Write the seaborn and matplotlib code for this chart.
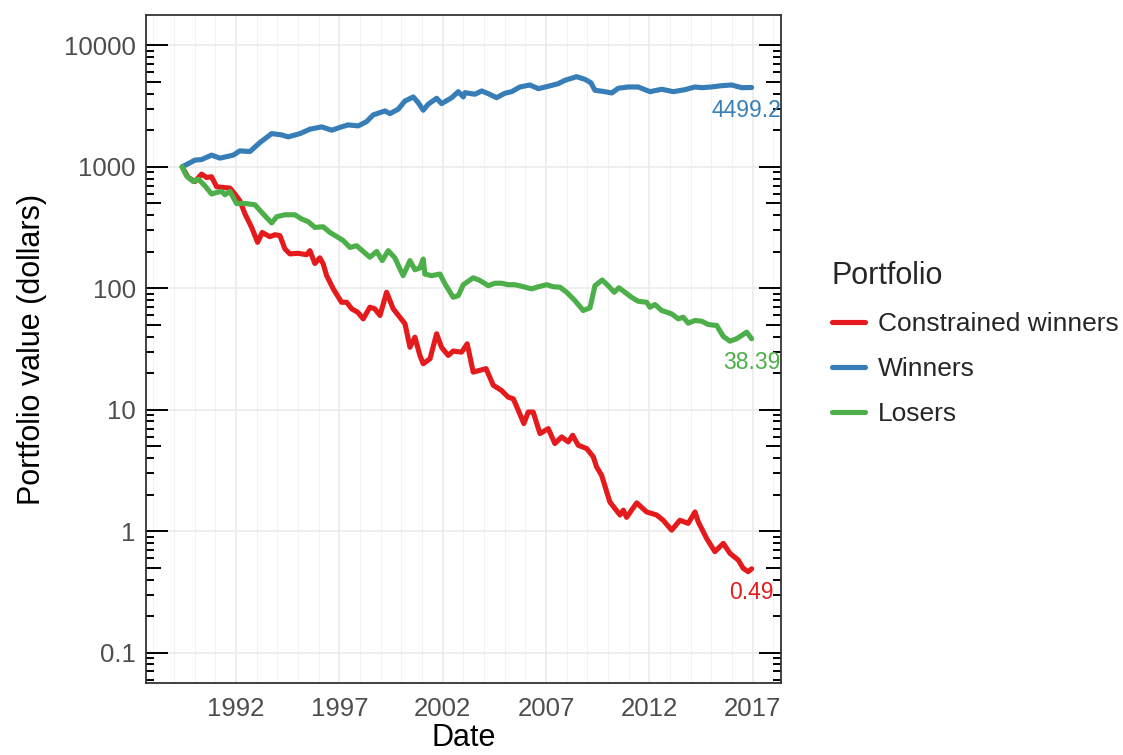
import numpy as np
import pandas as pd
import matplotlib
matplotlib.use('Agg')
import matplotlib.pyplot as plt
import matplotlib.transforms as mtransforms
from matplotlib.lines import Line2D
from matplotlib.ticker import FixedLocator, FuncFormatter
import seaborn as sns

# values (decimal year, portfolio value in dollars)
winners_dates = [1989.40, 1990.02, 1990.34, 1990.82, 1991.23, 1991.87, 1992.19, 1992.68,
                 1993.16, 1993.73, 1994.21, 1994.53, 1995.10, 1995.58, 1996.15, 1996.63,
                 1997.11, 1997.43, 1997.92, 1998.32, 1998.64, 1999.21, 1999.45, 1999.85,
                 2000.18, 2000.58, 2000.82, 2001.06, 2001.30, 2001.71, 2001.95, 2002.44,
                 2002.76, 2003.00, 2003.08, 2003.56, 2003.89, 2004.21, 2004.61, 2005.01,
                 2005.34, 2005.74, 2006.22, 2006.63, 2007.11, 2007.59, 2007.92, 2008.48,
                 2008.88, 2009.17, 2009.37, 2009.85, 2010.18, 2010.50, 2010.98, 2011.46,
                 2012.03, 2012.60, 2013.16, 2013.72, 2014.21, 2014.53, 2015.01, 2015.50,
                 2015.98, 2016.47, 2016.95]
winners_values = [1000, 1135, 1148, 1248, 1179, 1248, 1353, 1336,
                  1584, 1877, 1832, 1764, 1877, 2041, 2132, 2002,
                  2132, 2214, 2172, 2356, 2675, 2885, 2741, 2980,
                  3485, 3760, 3376, 2924, 3275, 3668, 3313, 3710,
                  4157, 3760, 4079, 3958, 4213, 4003, 3710, 4033,
                  4157, 4544, 4719, 4400, 4604, 4836, 5157, 5521,
                  5255, 4928, 4268, 4157, 4055, 4434, 4544, 4544,
                  4157, 4350, 4157, 4318, 4544, 4484, 4544, 4656,
                  4719, 4484, 4499.2]

cw_dates = [1989.40, 1989.69, 1990.02, 1990.34, 1990.58, 1990.82, 1991.07, 1991.39,
            1991.71, 1991.95, 1992.19, 1992.44, 1992.76, 1993.05, 1993.27, 1993.64,
            1993.89, 1994.13, 1994.37, 1994.61, 1995.01, 1995.42, 1995.58, 1995.82,
            1996.06, 1996.22, 1996.39, 1996.71, 1997.11, 1997.36, 1997.60, 1997.89,
            1998.16, 1998.48, 1998.72, 1998.97, 1999.29, 1999.61, 1999.93, 2000.18,
            2000.42, 2000.66, 2000.90, 2001.06, 2001.39, 2001.71, 2001.95, 2002.27,
            2002.51, 2002.92, 2003.19, 2003.48, 2003.80, 2004.10, 2004.45, 2004.85,
            2005.17, 2005.42, 2005.66, 2005.93, 2006.14, 2006.38, 2006.71, 2007.11,
            2007.43, 2007.76, 2008.08, 2008.29, 2008.56, 2008.97, 2009.29, 2009.45,
            2009.69, 2010.09, 2010.58, 2010.74, 2010.90, 2011.39, 2011.87, 2012.35,
            2012.67, 2013.08, 2013.48, 2013.88, 2014.21, 2014.37, 2014.77, 2015.17,
            2015.58, 2015.90, 2016.30, 2016.54, 2016.78, 2016.95]
cw_values = [1000, 817, 757, 871, 817, 828, 685, 676,
             668, 597, 526, 409, 317, 239, 288, 266,
             276, 271, 211, 192, 194, 189, 204, 160,
             178, 159, 127, 98.9, 76.7, 76.7, 67.7, 63.5,
             56.0, 69.8, 67.7, 59.7, 92.7, 67.7, 57.8, 51.0,
             32.7, 39.6, 28.0, 23.9, 26.3, 42.2, 32.6, 28.0,
             30.4, 29.8, 34.9, 20.4, 21.1, 21.8, 15.9, 14.4,
             12.7, 12.3, 9.89, 7.69, 9.57, 9.57, 6.36, 6.99,
             5.27, 5.97, 5.43, 6.16, 5.10, 4.79, 4.09, 3.38,
             2.89, 1.74, 1.36, 1.49, 1.30, 1.71, 1.44, 1.36,
             1.23, 1.02, 1.23, 1.16, 1.44, 1.19, 0.873, 0.678,
             0.794, 0.657, 0.579, 0.495, 0.464, 0.49]

losers_dates = [1989.40, 1989.61, 1989.93, 1990.18, 1990.50, 1990.82, 1991.07, 1991.31,
                1991.47, 1991.71, 1992.03, 1992.44, 1992.92, 1993.32, 1993.73, 1993.97,
                1994.37, 1994.85, 1995.18, 1995.50, 1995.82, 1996.22, 1996.55, 1996.95,
                1997.19, 1997.52, 1997.84, 1998.16, 1998.48, 1998.81, 1999.08, 1999.37,
                1999.69, 2000.09, 2000.42, 2000.66, 2000.90, 2001.06, 2001.14, 2001.47,
                2001.87, 2002.11, 2002.51, 2002.76, 2003.00, 2003.48, 2003.80, 2004.21,
                2004.53, 2004.85, 2005.17, 2005.50, 2005.90, 2006.31, 2006.55, 2007.03,
                2007.35, 2007.68, 2008.00, 2008.40, 2008.80, 2009.13, 2009.37, 2009.72,
                2010.01, 2010.30, 2010.53, 2010.82, 2011.14, 2011.46, 2011.87, 2012.03,
                2012.27, 2012.60, 2013.08, 2013.40, 2013.64, 2013.88, 2014.21, 2014.53,
                2014.85, 2015.26, 2015.58, 2015.90, 2016.22, 2016.47, 2016.71, 2016.95]
losers_values = [1000, 843, 757, 792, 698, 597, 615, 627,
                 589, 627, 499, 499, 487, 409, 345, 388,
                 403, 403, 372, 353, 317, 321, 288, 262,
                 247, 217, 224, 201, 180, 201, 169, 204,
                 178, 127, 169, 142, 147, 174, 131, 127,
                 131, 109, 84.3, 87.1, 107, 122, 116, 105,
                 110, 110, 107, 107, 103, 98.9, 102, 107,
                 103, 102, 92.7, 79.2, 65.6, 69.0, 105, 117,
                 105, 92.7, 101, 92.7, 84.3, 78.2, 76.7, 69.8,
                 73.5, 65.6, 61.6, 56.0, 57.8, 51.6, 54.3, 53.6,
                 50.3, 49.4, 40.1, 36.7, 38.4, 40.9, 43.5, 38.39]

portfolios = ['Constrained winners', 'Winners', 'Losers']
y_breaks = [0.1, 1, 10, 100, 1000, 10000]
x_breaks = [1992, 1997, 2002, 2007, 2012, 2017]

series = {
    'Constrained winners': (cw_dates, cw_values),
    'Winners': (winners_dates, winners_values),
    'Losers': (losers_dates, losers_values),
}
frames = []
for name in portfolios:
    d, v = series[name]
    frames.append(pd.DataFrame({'Date': d, 'Value': v, 'Portfolio': name}))
df = pd.concat(frames, ignore_index=True)

sns.set_style('white')
plt.rcParams['font.family'] = ['Liberation Sans', 'DejaVu Sans']

palette = dict(zip(portfolios, sns.color_palette('Set1', 3)))

W, H = 1123, 755
fig = plt.figure(figsize=(W / 100, H / 100), dpi=100)
ax = fig.add_axes([146 / W, 1 - 683 / H, 635 / W, 668 / H])

sns.lineplot(data=df, x='Date', y='Value', hue='Portfolio', hue_order=portfolios,
             palette=palette, linewidth=3.7, estimator=None, sort=False,
             legend=False, ax=ax, solid_joinstyle='round')

ax.set_yscale('log')
ax.set_ylim(10 ** -1.25, 10 ** 4.25)
ax.set_xlim(1987.65, 2018.37)

ax.yaxis.set_major_locator(FixedLocator(y_breaks))
ax.yaxis.set_minor_locator(FixedLocator([]))
ax.yaxis.set_major_formatter(FuncFormatter(lambda v, p: f'{v:g}'))
ax.xaxis.set_major_locator(FixedLocator(x_breaks))
ax.xaxis.set_minor_locator(FixedLocator(range(1988, 2019)))

ax.grid(which='major', color='#EBEBEB', linewidth=1.2)
ax.grid(which='minor', axis='x', color='#F2F2F2', linewidth=0.7)
ax.set_axisbelow(True)

for s in ax.spines.values():
    s.set_color('#333333')
    s.set_linewidth(1.3)

ax.tick_params(axis='both', which='major', direction='out', length=5.8, width=1.1,
               color='#333333', labelsize=18.5, labelcolor='#4D4D4D')
ax.tick_params(axis='x', which='major', pad=4)
ax.tick_params(axis='y', which='major', pad=1.5)
ax.tick_params(axis='x', which='minor', length=0)

# log ticks on both sides, like annotation_logticks
trans = mtransforms.blended_transform_factory(ax.transAxes, ax.transData)
pw = 635.0
for dec in range(-2, 5):
    for k in range(1, 10):
        yv = k * 10.0 ** dec
        if yv < 10 ** -1.25 or yv > 10 ** 4.25:
            continue
        ln = 22 if k == 1 else (15 if k == 5 else 8)
        f = ln / pw
        ax.plot([0, f], [yv, yv], color='black', lw=1.4, transform=trans,
                solid_capstyle='butt', clip_on=False)
        ax.plot([1 - f, 1], [yv, yv], color='black', lw=1.4, transform=trans,
                solid_capstyle='butt', clip_on=False)

ax.set_xlabel('Date', fontsize=22, labelpad=1.5, color='black')
ax.set_ylabel('Portfolio value (dollars)', fontsize=22, labelpad=12, color='black')

# end labels
texts = []
for name in portfolios:
    d, v = series[name]
    t = ax.annotate(f'{v[-1]:g}', (d[-1], v[-1]), xytext=(0, -21.6),
                    textcoords='offset points', ha='center', va='baseline',
                    color=palette[name], fontsize=16.5)
    texts.append(t)

fig.canvas.draw()
r = fig.canvas.get_renderer()
axr = ax.get_window_extent(r).x1
for t in texts:
    bb = t.get_window_extent(r)
    if bb.x1 > axr:
        shift = (bb.x1 - axr) * 72 / 100
        t.xyann = (-shift, t.xyann[1])

handles = [Line2D([], [], color=palette[n], lw=3.7) for n in portfolios]
leg = fig.legend(handles, portfolios, title='Portfolio', loc='upper left',
                 bbox_to_anchor=(832 / W, 1 - 261 / H), frameon=False,
                 fontsize=19, title_fontsize=22, handlelength=1.25,
                 handletextpad=0.5, labelspacing=0.8, borderpad=0,
                 borderaxespad=0, alignment='left')

fig.savefig('out.png', dpi=100)
